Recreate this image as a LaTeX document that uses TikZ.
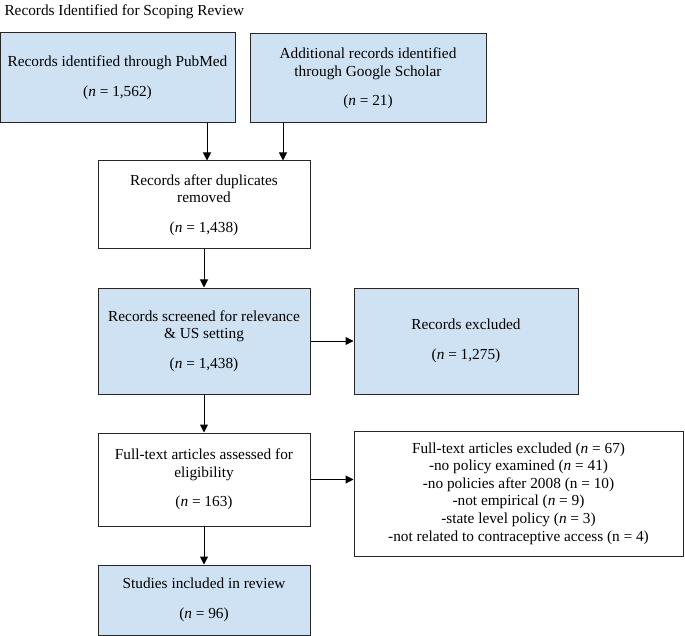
\documentclass[tikz,border=0pt]{standalone}
\usepackage{fontspec}
\setmainfont{Liberation Serif}
\usetikzlibrary{arrows.meta}
\definecolor{boxblue}{RGB}{207,226,243}

\def\colw{212}
\def\gap{12pt}

\begin{document}
\begin{tikzpicture}[x=1pt,y=-1pt,
    font=\fontsize{15.3}{17.6}\selectfont,
    box/.style={draw=black!85,line width=1pt,align=center,inner sep=0pt},
    hit/.style={box,fill=boxblue},
    arr/.style={line width=1pt,-{Triangle[length=8pt,width=8pt]}}]
  \useasboundingbox (0,0) rectangle (685,636);

  \node[anchor=west] (title) at (1,12) {Records Identified for Scoping Review};

  \node[hit,minimum width=235,minimum height=90] (pubmed) at (117.5,78)
  {Records identified through PubMed\\[\gap](\textit{n} = 1,562)};
  \node[hit,minimum width=236,minimum height=89] (scholar) at (368,78.5)
  {Additional records identified\\through Google Scholar\\[\gap](\textit{n} = 21)};
  \node[box,minimum width=\colw,minimum height=88] (dedup) at (204,205)
  {Records after duplicates\\removed\\[\gap](\textit{n} = 1,438)};
  \node[hit,minimum width=\colw,minimum height=106] (screen) at (204,341)
  {Records screened for relevance\\\& US setting\\[\gap](\textit{n} = 1,438)};
  \node[hit,minimum width=224,minimum height=106] (excl) at (466,341)
  {Records excluded\\[\gap](\textit{n} = 1,275)};
  \node[box,minimum width=\colw,minimum height=93] (fulltext) at (204,479.5)
  {Full-text articles assessed for\\eligibility\\[\gap](\textit{n} = 163)};
  \node[box,minimum width=329,minimum height=125] (ftexcl) at (518.5,493.5)
  {Full-text articles excluded (\textit{n} = 67)\\
   -no policy examined (\textit{n} = 41)\\
   -no policies after 2008 (n = 10)\\
   -not empirical (\textit{n} = 9)\\
   -state level policy (\textit{n} = 3)\\
   -not related to contraceptive access (n = 4)};
  \node[hit,minimum width=\colw,minimum height=70] (incl) at (204,600)
  {Studies included in review\\[\gap](\textit{n} = 96)};

  \draw[arr] ([xshift=3pt]dedup.north |- pubmed.south) -- ([xshift=3pt]dedup.north);
  \draw[arr] ([xshift=-85pt]scholar.south) -- ([xshift=-85pt]scholar.south |- dedup.north);
  \draw[arr] (dedup) -- (screen);
  \draw[arr] (screen) -- (excl);
  \draw[arr] (screen) -- (fulltext);
  \draw[arr] (fulltext.east) -- (fulltext.east -| ftexcl.west);
  \draw[arr] (fulltext) -- (incl);
\end{tikzpicture}
\end{document}
